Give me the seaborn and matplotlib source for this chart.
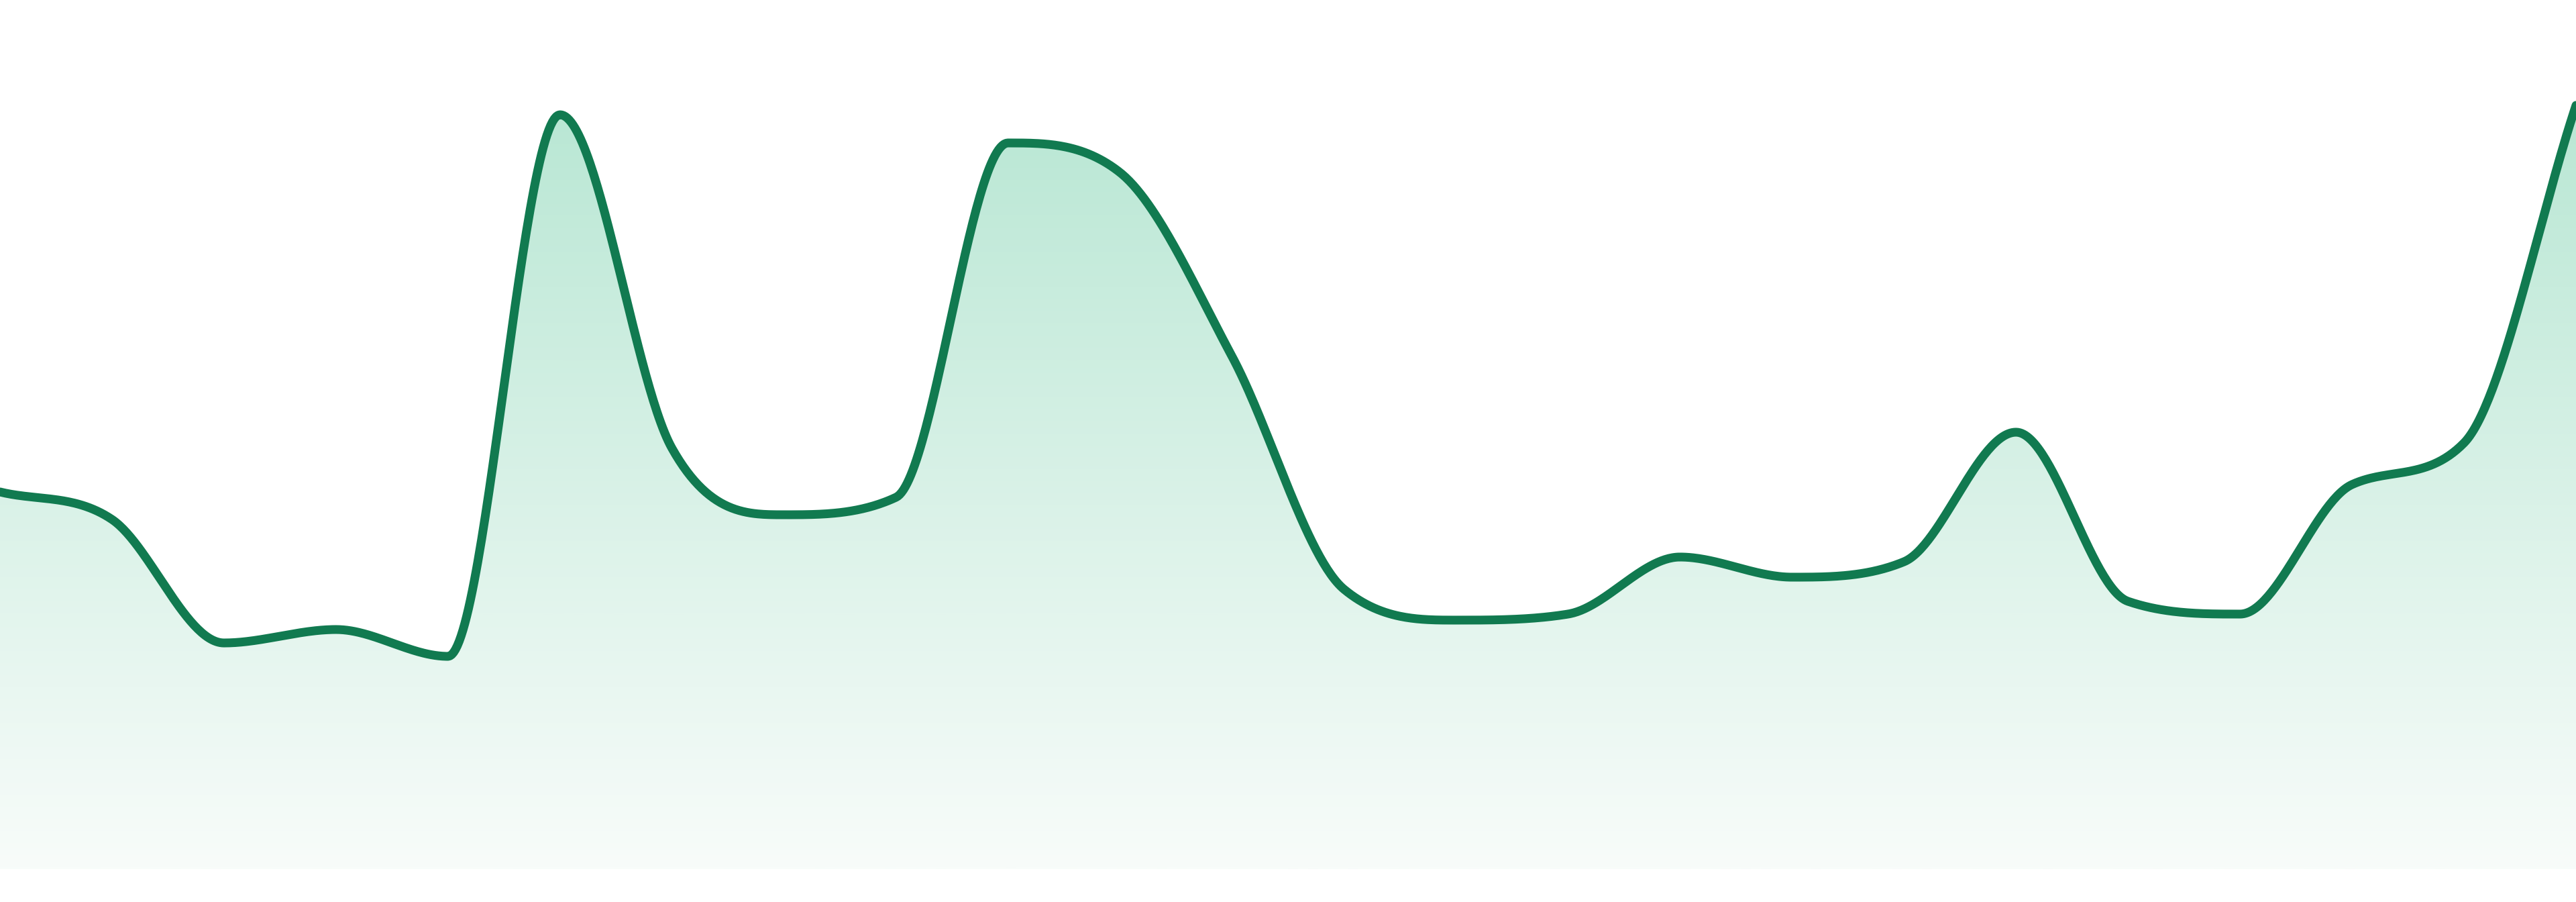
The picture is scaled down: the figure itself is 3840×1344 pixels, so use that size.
import numpy as np
import pandas as pd
import matplotlib.pyplot as plt
import seaborn as sns
from matplotlib.colors import LinearSegmentedColormap

# Datos (24 puntos, unidades arbitrarias)
points = list(range(24))
values = [56.2, 52.1, 33.7, 35.7, 31.7, 112.4, 62.7, 52.8, 55.4, 108.2, 103.8, 76.4,
          41.7, 37.1, 38.0, 46.5, 43.5, 45.8, 65.1, 39.9, 38.0, 57.3, 63.5, 113.8]

line_color = '#117a50'
fill_top = '#b9e7d4'
fill_bottom = '#f8fcfa'


# Curva monotona (como cubicInterpolationMode 'monotone'), solo para dibujar
def monotone_curve(x, y, steps=60):
    x = np.asarray(x, float)
    y = np.asarray(y, float)
    n = len(x)
    h = np.diff(x)
    d = np.diff(y) / h
    m = np.zeros(n)
    m[0] = d[0]
    m[-1] = d[-1]
    for i in range(1, n - 1):
        if d[i - 1] == 0 or d[i] == 0 or np.sign(d[i - 1]) != np.sign(d[i]):
            m[i] = 0
        else:
            m[i] = (d[i - 1] + d[i]) / 2
    for i in range(n - 1):
        if abs(d[i]) < 1e-9:
            m[i] = m[i + 1] = 0
            continue
        a = m[i] / d[i]
        b = m[i + 1] / d[i]
        sq = a * a + b * b
        if sq <= 9:
            continue
        tau = 3 / np.sqrt(sq)
        m[i] = a * tau * d[i]
        m[i + 1] = b * tau * d[i]
    xs, ys = [], []
    for i in range(n - 1):
        u = np.linspace(0, 1, steps, endpoint=(i == n - 2))
        h00 = 2 * u**3 - 3 * u**2 + 1
        h10 = u**3 - 2 * u**2 + u
        h01 = -2 * u**3 + 3 * u**2
        h11 = u**3 - u**2
        xs.append(x[i] + u * h[i])
        ys.append(h00 * y[i] + h10 * h[i] * m[i] + h01 * y[i + 1] + h11 * h[i] * m[i + 1])
    return np.concatenate(xs), np.concatenate(ys)


cx, cy = monotone_curve(points, values)
curve_df = pd.DataFrame({'x': cx, 'y': cy})

sns.set_style('white')
fig = plt.figure(figsize=(19.2, 6.72), dpi=200)
ax = fig.add_axes([0, 0, 1, 1])

y_low, y_high = -4.9, 129.5
ax.set_xlim(0, 23)
ax.set_ylim(y_low, y_high)

# Relleno con degradado recortado por el area bajo la curva
area = ax.fill_between(cx, 0, cy, color='none', linewidth=0)
cmap = LinearSegmentedColormap.from_list('grad', [fill_bottom, fill_top])
grad = np.linspace(0, 1, 512).reshape(-1, 1)
img = ax.imshow(grad, cmap=cmap, aspect='auto', origin='lower',
                extent=[0, 23, 0, max(values)], zorder=1)
img.set_clip_path(area.get_paths()[0], transform=ax.transData)

sns.lineplot(data=curve_df, x='x', y='y', ax=ax, color=line_color,
             linewidth=4.7, sort=False, zorder=3)
for ln in ax.get_lines():
    ln.set_solid_capstyle('round')
    ln.set_solid_joinstyle('round')

ax.set_xlim(0, 23)
ax.set_ylim(y_low, y_high)
ax.axis('off')

fig.savefig('out.png', dpi=200, facecolor='white')
